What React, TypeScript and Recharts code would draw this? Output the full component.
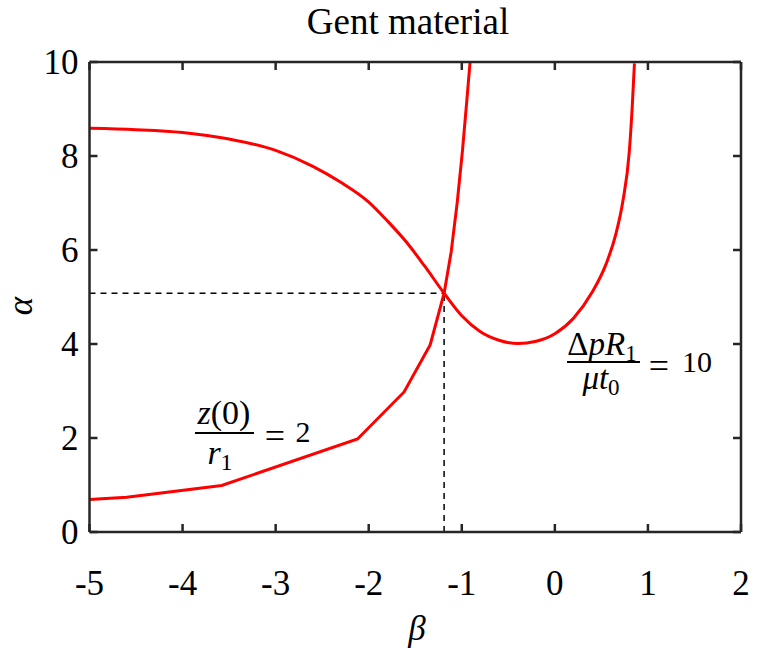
import { LineChart, Line, XAxis, YAxis } from 'recharts'

// z(0)/r1 = 2 curve
const zBeta = [-5, -4.6, -3.58, -2.12, -1.62, -1.34, -1.19, -1.114, -1.048, -0.993, -0.946, -0.911]
const zAlpha = [0.69, 0.74, 0.99, 1.98, 2.98, 3.98, 5.08, 5.96, 7.03, 8.11, 9.18, 10.0]

// Δp R1 / (μ t0) = 10 curve
const pBeta = [-5, -4.5, -4, -3.5, -3, -2.6, -2.3, -2, -1.8, -1.6, -1.4, -1.19, -1, -0.8, -0.6, -0.4, -0.2, 0, 0.2, 0.4, 0.55, 0.65, 0.73, 0.8, 0.83, 0.855]
const pAlpha = [8.59, 8.56, 8.5, 8.36, 8.12, 7.78, 7.44, 7.02, 6.62, 6.18, 5.66, 5.08, 4.6, 4.26, 4.08, 4.01, 4.06, 4.22, 4.55, 5.1, 5.7, 6.3, 7.03, 8.1, 9.0, 9.97]

// intersection guide
const crossBeta = -1.19
const crossAlpha = 5.08

const xTicks = [-5, -4, -3, -2, -1, 0, 1, 2]
const yTicks = [0, 2, 4, 6, 8, 10]

const zData = zBeta.map((b, i) => ({ beta: b, alpha: zAlpha[i] }))
const pData = pBeta.map((b, i) => ({ beta: b, alpha: pAlpha[i] }))
const vGuide = [{ beta: crossBeta, alpha: 0 }, { beta: crossBeta, alpha: crossAlpha }]
const hGuide = [{ beta: -5, alpha: crossAlpha }, { beta: crossBeta, alpha: crossAlpha }]

const frame = '#262626'
const serif = '"Liberation Serif", "Times New Roman", serif'
const tickLen = 8

function BottomTick({ x, y, payload }: any) {
  return (
    <g>
      <line x1={x} y1={y} x2={x} y2={y - tickLen} stroke={frame} strokeWidth={2.5} />
      <text x={x} y={y + 63} textAnchor="middle" fontFamily={serif} fontSize={35} fill="#000">
        {payload.value}
      </text>
    </g>
  )
}

function TopTick({ x, y }: any) {
  return <line x1={x} y1={y} x2={x} y2={y + tickLen} stroke={frame} strokeWidth={2.5} />
}

function LeftTick({ x, y, payload }: any) {
  return (
    <g>
      <line x1={x} y1={y} x2={x + tickLen} y2={y} stroke={frame} strokeWidth={2.5} />
      <text x={x - 11} y={y + 12} textAnchor="end" fontFamily={serif} fontSize={35} fill="#000">
        {payload.value}
      </text>
    </g>
  )
}

function RightTick({ x, y }: any) {
  return <line x1={x} y1={y} x2={x - tickLen} y2={y} stroke={frame} strokeWidth={2.5} />
}

export default function App() {
  return (
    <div style={{ position: 'absolute', left: 0, top: 0, width: 765, height: 655, background: '#fff' }}>
      <LineChart
        width={765}
        height={655}
        margin={{ top: 61, right: 23, bottom: 63, left: 9.5 }}
      >
        <XAxis
          xAxisId="b"
          dataKey="beta"
          type="number"
          domain={[-5, 2]}
          ticks={xTicks}
          interval={0}
          allowDataOverflow
          height={60}
          tickSize={0}
          tickMargin={0}
          tick={<BottomTick />}
          axisLine={{ stroke: frame, strokeWidth: 2.5 }}
        />
        <XAxis
          xAxisId="t"
          orientation="top"
          dataKey="beta"
          type="number"
          domain={[-5, 2]}
          ticks={xTicks}
          interval={0}
          allowDataOverflow
          height={1}
          tickSize={0}
          tickMargin={0}
          tick={<TopTick />}
          axisLine={{ stroke: frame, strokeWidth: 2.5 }}
        />
        <YAxis
          yAxisId="l"
          type="number"
          domain={[0, 10]}
          ticks={yTicks}
          interval={0}
          allowDataOverflow
          width={80}
          tickSize={0}
          tickMargin={0}
          tick={<LeftTick />}
          axisLine={{ stroke: frame, strokeWidth: 2.5 }}
        />
        <YAxis
          yAxisId="r"
          orientation="right"
          type="number"
          domain={[0, 10]}
          ticks={yTicks}
          interval={0}
          allowDataOverflow
          width={1}
          tickSize={0}
          tickMargin={0}
          tick={<RightTick />}
          axisLine={{ stroke: frame, strokeWidth: 2.5 }}
        />
        {/* invisible series so the top/right mirror axes get drawn */}
        <Line xAxisId="t" yAxisId="r" data={pData} dataKey="alpha" stroke="none" dot={false} activeDot={false} isAnimationActive={false} />
        <Line xAxisId="b" yAxisId="l" data={hGuide} dataKey="alpha" type="linear" stroke="#000" strokeWidth={1.5} strokeDasharray="6 5" dot={false} isAnimationActive={false} />
        <Line xAxisId="b" yAxisId="l" data={vGuide} dataKey="alpha" type="linear" stroke="#000" strokeWidth={1.5} strokeDasharray="6 5" dot={false} isAnimationActive={false} />
        <Line xAxisId="b" yAxisId="l" data={pData} dataKey="alpha" type="monotone" stroke="#ff0000" strokeWidth={3} dot={false} isAnimationActive={false} />
        <Line xAxisId="b" yAxisId="l" data={zData} dataKey="alpha" type="linear" stroke="#ff0000" strokeWidth={3} dot={false} isAnimationActive={false} />
      </LineChart>
      <svg width={765} height={655} style={{ position: 'absolute', left: 0, top: 0, pointerEvents: 'none' }}>
        <text x={408} y={34} textAnchor="middle" fontFamily={serif} fontSize={37} fill="#000">Gent material</text>
        <text x={417} y={640} textAnchor="middle" fontFamily={serif} fontStyle="italic" fontSize={35} fill="#000">β</text>
        <text x={32} y={306} textAnchor="middle" fontFamily={serif} fontStyle="italic" fontSize={35} fill="#000" transform="rotate(-90 32 306)">α</text>

        {/* z(0)/r1 = 2 */}
        <text x={224} y={424} textAnchor="middle" fontFamily={serif} fontSize={34} fill="#000">
          <tspan fontStyle="italic">z</tspan>(0)
        </text>
        <line x1={195} y1={433} x2={254} y2={433} stroke="#000" strokeWidth={2.2} />
        <text x={220} y={464} textAnchor="middle" fontFamily={serif} fontSize={34} fill="#000">
          <tspan fontStyle="italic">r</tspan><tspan fontSize={24} dy={6}>1</tspan>
        </text>
        <text x={275} y={448} textAnchor="middle" fontFamily={serif} fontSize={36} fill="#000">=</text>
        <text x={303} y={442} textAnchor="middle" fontFamily={serif} fontSize={30} fill="#000">2</text>

        {/* Δp R1 / (μ t0) = 10 */}
        <text x={602} y={355} textAnchor="middle" fontFamily={serif} fontSize={33} fill="#000">
          Δ<tspan fontStyle="italic">pR</tspan><tspan fontSize={23} dy={6}>1</tspan>
        </text>
        <line x1={567} y1={362} x2={640} y2={362} stroke="#000" strokeWidth={2.2} />
        <text x={601} y={389} textAnchor="middle" fontFamily={serif} fontSize={33} fill="#000">
          <tspan fontStyle="italic">μt</tspan><tspan fontSize={23} dy={6}>0</tspan>
        </text>
        <text x={659} y={378} textAnchor="middle" fontFamily={serif} fontSize={36} fill="#000">=</text>
        <text x={697} y={372} textAnchor="middle" fontFamily={serif} fontSize={30} fill="#000">10</text>
      </svg>
    </div>
  )
}
